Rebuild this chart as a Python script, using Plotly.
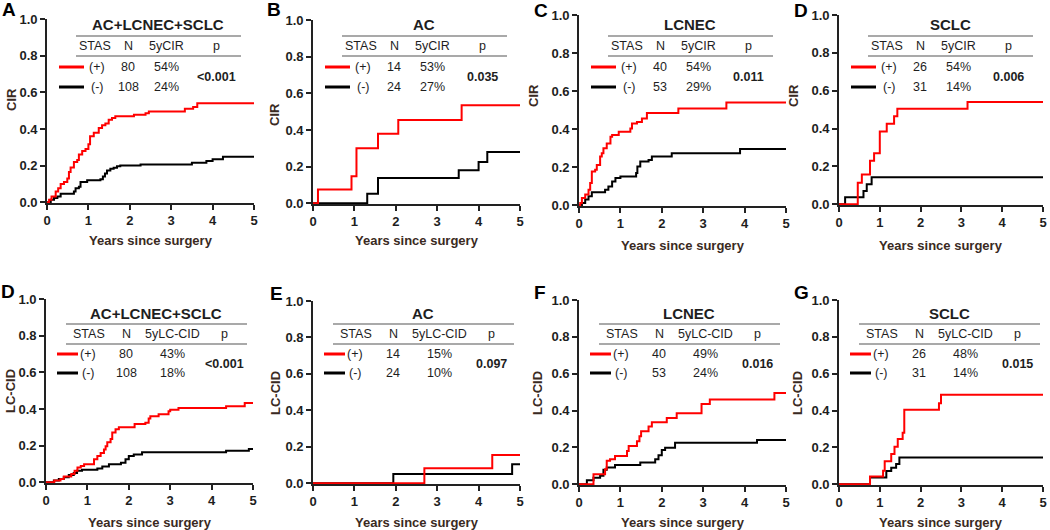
import plotly.graph_objects as go

W, H = 1050, 530
FONT = "Arial, 'Liberation Sans', Helvetica, sans-serif"
TXT = "#1e1e1e"

# ---------------- data ----------------
panel_letters = ["A", "B", "C", "D", "D", "E", "F", "G"]
panel_titles = ["AC+LCNEC+SCLC", "AC", "LCNEC", "SCLC",
                "AC+LCNEC+SCLC", "AC", "LCNEC", "SCLC"]
y_titles = ["CIR"] * 4 + ["LC-CID"] * 4
rate_headers = ["5yCIR"] * 4 + ["5yLC-CID"] * 4
stas_labels = ["(+)", "(-)"]
n_pos = [80, 14, 40, 26, 80, 14, 40, 26]
n_neg = [108, 24, 53, 31, 108, 24, 53, 31]
rate_pos = ["54%", "53%", "54%", "54%", "43%", "15%", "49%", "48%"]
rate_neg = ["24%", "27%", "29%", "14%", "18%", "10%", "24%", "14%"]
p_values = ["<0.001", "0.035", "0.011", "0.006", "<0.001", "0.097", "0.016", "0.015"]
x_ticks = [0, 1, 2, 3, 4, 5]
y_ticks = [0.0, 0.2, 0.4, 0.6, 0.8, 1.0]
x_title = "Years since surgery"

# A: CIR, all
cir_all_pos_t = [0, 0.05, 0.11, 0.21, 0.27, 0.33, 0.41, 0.49, 0.53, 0.57, 0.65, 0.73, 0.77, 0.85, 0.93, 1.0,
                 1.04, 1.13, 1.25, 1.33, 1.41, 1.49, 1.57, 1.65, 2.1, 2.38, 2.46, 3.33, 3.53, 3.63, 5.0]
cir_all_pos_v = [0, .014, .032, .059, .077, .10, .11, .13, .165, .19, .22, .23, .26, .28, .29, .317,
                 .36, .38, .405, .42, .43, .45, .46, .47, .477, .486, .495, .51, .52, .54, .54]
cir_all_neg_t = [0, 0.09, 0.17, 0.25, 0.33, 0.65, 0.69, 0.77, 0.81, 0.97, 1.29, 1.35, 1.4, 1.45, 1.53, 1.61,
                 1.69, 1.77, 2.26, 3.5, 3.85, 4.0, 4.25, 5.0]
cir_all_neg_v = [0, .014, .023, .032, .046, .059, .077, .085, .11, .12, .125, .14, .157, .174, .183, .189,
                 .196, .20, .206, .215, .225, .235, .248, .248]
# B: CIR, AC
cir_ac_pos_t = [0, 0.12, 0.93, 1.05, 1.57, 2.06, 3.59, 5.0]
cir_ac_pos_v = [0, .075, .148, .30, .38, .455, .535, .535]
cir_ac_neg_t = [0, 1.31, 1.57, 3.52, 4.0, 4.21, 5.0]
cir_ac_neg_v = [0, .052, .138, .18, .225, .28, .28]
# C: CIR, LCNEC
cir_lc_pos_t = [0, 0.03, 0.07, 0.15, 0.23, 0.27, 0.31, 0.39, 0.43, 0.51, 0.55, 0.59, 0.67, 0.76, 0.80, 0.96,
                1.24, 1.28, 1.40, 1.52, 1.64, 2.40, 3.56, 5.0]
cir_lc_pos_v = [0, .012, .038, .056, .082, .117, .177, .186, .212, .256, .273, .30, .325, .36, .369, .386,
                .403, .43, .438, .456, .485, .508, .54, .54]
cir_lc_neg_t = [0, 0.07, 0.15, 0.23, 0.31, 0.63, 0.71, 0.80, 0.88, 1.0, 1.38, 1.41, 1.48, 1.68, 1.76, 2.24,
                3.89, 5.0]
cir_lc_neg_v = [0, .012, .03, .047, .068, .082, .099, .125, .143, .151, .169, .203, .23, .238, .256, .273,
                .295, .295]
# D: CIR, SCLC
cir_sc_pos_t = [0, 0.46, 0.56, 0.76, 0.86, 1.0, 1.17, 1.35, 1.43, 3.15, 5.0]
cir_sc_pos_v = [0, .113, .157, .23, .27, .385, .426, .465, .505, .54, .54]
cir_sc_neg_t = [0, 0.15, 0.60, 0.68, 0.80, 5.0]
cir_sc_neg_v = [0, .037, .07, .105, .142, .142]
# D (bottom): LC-CID, all
lcd_all_pos_t = [0, 0.2, 0.35, 0.43, 0.61, 0.69, 0.76, 0.84, 0.92, 1.16, 1.24, 1.32, 1.40, 1.44, 1.48, 1.56,
                 1.60, 1.68, 1.76, 2.14, 2.40, 2.48, 2.52, 2.72, 2.96, 3.0, 3.2, 4.35, 4.8, 5.0]
lcd_all_pos_v = [0, .009, .018, .032, .045, .063, .08, .089, .098, .125, .143, .16, .179, .196, .218, .236,
                 .271, .289, .30, .318, .325, .348, .36, .371, .388, .396, .405, .415, .432, .432]
lcd_all_neg_t = [0, 0.19, 0.31, 0.43, 0.55, 0.67, 0.75, 0.87, 1.24, 1.36, 1.52, 1.81, 1.92, 2.0, 2.12, 2.32,
                 4.35, 4.9, 5.0]
lcd_all_neg_v = [0, .009, .018, .027, .039, .05, .063, .068, .075, .086, .098, .107, .125, .143, .152, .164,
                 .172, .182, .182]
# E: LC-CID, AC
lcd_ac_pos_t = [0, 2.69, 4.33, 5.0]
lcd_ac_pos_v = [0, .083, .155, .155]
lcd_ac_neg_t = [0, 1.94, 4.81, 5.0]
lcd_ac_neg_v = [0, .051, .105, .105]
# F: LC-CID, LCNEC
lcd_lc_pos_t = [0, 0.35, 0.63, 0.67, 0.75, 0.87, 1.16, 1.20, 1.40, 1.46, 1.50, 1.68, 1.76, 2.12, 2.36, 2.96,
                3.16, 4.72, 5.0]
lcd_lc_pos_v = [0, .055, .082, .127, .136, .154, .18, .207, .234, .26, .288, .314, .336, .359, .386, .436,
                .46, .495, .495]
lcd_lc_neg_t = [0, 0.19, 0.35, 0.51, 0.59, 0.67, 0.87, 1.48, 1.84, 1.92, 2.0, 2.08, 2.32, 4.3, 5.0]
lcd_lc_neg_v = [0, .022, .036, .046, .079, .091, .104, .118, .136, .157, .186, .198, .225, .24, .24]
# G: LC-CID, SCLC
lcd_sc_pos_t = [0, 0.76, 1.08, 1.12, 1.28, 1.36, 1.44, 1.56, 1.60, 2.45, 2.50, 5.0]
lcd_sc_pos_v = [0, .042, .074, .125, .164, .204, .245, .28, .404, .44, .486, .486]
lcd_sc_neg_t = [0, 0.76, 1.16, 1.28, 1.40, 1.48, 5.0]
lcd_sc_neg_v = [0, .037, .072, .09, .11, .145, .145]

curves = [
    (cir_all_pos_t, cir_all_pos_v, cir_all_neg_t, cir_all_neg_v),
    (cir_ac_pos_t, cir_ac_pos_v, cir_ac_neg_t, cir_ac_neg_v),
    (cir_lc_pos_t, cir_lc_pos_v, cir_lc_neg_t, cir_lc_neg_v),
    (cir_sc_pos_t, cir_sc_pos_v, cir_sc_neg_t, cir_sc_neg_v),
    (lcd_all_pos_t, lcd_all_pos_v, lcd_all_neg_t, lcd_all_neg_v),
    (lcd_ac_pos_t, lcd_ac_pos_v, lcd_ac_neg_t, lcd_ac_neg_v),
    (lcd_lc_pos_t, lcd_lc_pos_v, lcd_lc_neg_t, lcd_lc_neg_v),
    (lcd_sc_pos_t, lcd_sc_pos_v, lcd_sc_neg_t, lcd_sc_neg_v),
]

# ---------------- layout (pixel boxes of each plot area) ----------------
boxes = [(47, 19, 254, 203), (313, 20, 520, 204), (579, 15, 786, 206), (839, 15, 1043, 205),
         (46, 299, 253, 483), (313, 301, 520, 484), (579, 300, 786, 485), (839, 300, 1043, 485)]
letter_pos = [(9, 10), (274, 10), (541, 11), (801, 11), (8, 291), (276, 293), (540, 292), (801, 292)]
ytitle_dx = [35, 39, 45, 45, 36, 38, 42, 42]
ytitle_y = [100, 115, 96, 96, 391, 393, 393, 393]
xtitle_y = [240, 240, 245, 245, 522, 522, 522, 522]

row_cfg = [
    dict(title_y=25, l1=36, hdr=46, l2=56, r1=67, r2=87, pv=77, lx0=29, lx1=194, c_title=111,
         c_stas=48, c_n=81, c_rate=119, c_p=169, leg0=12, leg1=37, c_sign=50),
    dict(title_y=313, l1=324, hdr=334, l2=344, r1=354, r2=373, pv=364, lx0=20, lx1=201, c_title=110,
         c_stas=43, c_n=80, c_rate=126, c_p=178, leg0=11, leg1=32, c_sign=42),
]


def fx(x):
    return x / W


def fy(y):
    return 1 - y / H


fig = go.Figure()
annotations = []
shapes = []

for i in range(8):
    x0, y0, x1, y1 = boxes[i]
    sfx = "" if i == 0 else str(i + 1)
    xa, ya = "x" + sfx, "y" + sfx
    pt, pv, nt, nv = curves[i]
    fig.add_trace(go.Scatter(x=nt, y=nv, mode="lines", line=dict(color="black", width=2, shape="hv"),
                             xaxis=xa, yaxis=ya, showlegend=False, hoverinfo="skip"))
    fig.add_trace(go.Scatter(x=pt, y=pv, mode="lines", line=dict(color="#ff0000", width=2, shape="hv"),
                             xaxis=xa, yaxis=ya, showlegend=False, hoverinfo="skip"))
    axcommon = dict(showline=True, linecolor="#222", linewidth=1.6, ticks="outside", ticklen=5,
                    tickwidth=1.5, tickcolor="#222", showgrid=False, zeroline=False, fixedrange=True,
                    layer="below traces", automargin=False,
                    tickfont=dict(family=FONT, size=13, color=TXT, weight="bold"))
    fig.update_layout(**{
        ("xaxis" + sfx): dict(domain=[fx(x0), fx(x1)], range=[0, 5], tickvals=x_ticks, anchor=ya, **axcommon),
        ("yaxis" + sfx): dict(domain=[fy(y1), fy(y0)], range=[-0.004, 1.0], tickvals=y_ticks,
                              tickformat=".1f", anchor=xa, **axcommon),
    })

    # panel letter
    lx, ly = letter_pos[i]
    annotations.append(dict(x=fx(lx), y=fy(ly), xref="paper", yref="paper", text="<b>%s</b>" % panel_letters[i],
                            showarrow=False, xanchor="center", yanchor="middle",
                            font=dict(family=FONT, size=19, color="black")))
    # axis titles
    annotations.append(dict(x=fx(x0 - ytitle_dx[i]), y=fy(ytitle_y[i]), xref="paper", yref="paper",
                            text="<b>%s</b>" % y_titles[i], textangle=-90, showarrow=False,
                            xanchor="center", yanchor="middle",
                            font=dict(family=FONT, size=13, color="#3a2a22")))
    annotations.append(dict(x=fx((x0 + x1) / 2), y=fy(xtitle_y[i]), xref="paper", yref="paper",
                            text="<b>%s</b>" % x_title, showarrow=False, xanchor="center", yanchor="middle",
                            font=dict(family=FONT, size=13, color="#3a2a22")))

    # table
    c = row_cfg[0 if i < 4 else 1]

    def txt(xrel, ypx, s, size=12.5, bold=False):
        annotations.append(dict(x=fx(x0 + xrel), y=fy(ypx), xref="paper", yref="paper",
                                text=("<b>%s</b>" % s) if bold else s, showarrow=False,
                                xanchor="center", yanchor="middle",
                                font=dict(family=FONT, size=size, color=TXT)))

    txt(c["c_title"], c["title_y"], panel_titles[i], size=15, bold=True)
    for ly_ in (c["l1"], c["l2"]):
        shapes.append(dict(type="line", xref="paper", yref="paper", x0=fx(x0 + c["lx0"]), x1=fx(x0 + c["lx1"]),
                           y0=fy(ly_), y1=fy(ly_), line=dict(color="#555", width=1.2)))
    txt(c["c_stas"], c["hdr"], "STAS")
    txt(c["c_n"], c["hdr"], "N")
    txt(c["c_rate"], c["hdr"], rate_headers[i])
    txt(c["c_p"], c["hdr"], "p")
    for ry, col, n, r, lab in ((c["r1"], "#ff0000", n_pos[i], rate_pos[i], stas_labels[0]),
                               (c["r2"], "black", n_neg[i], rate_neg[i], stas_labels[1])):
        shapes.append(dict(type="line", xref="paper", yref="paper", x0=fx(x0 + c["leg0"]),
                           x1=fx(x0 + c["leg1"]), y0=fy(ry), y1=fy(ry), line=dict(color=col, width=3)))
        txt(c["c_sign"], ry, lab)
        txt(c["c_n"], ry, str(n))
        txt(c["c_rate"], ry, r)
    txt(c["c_p"], c["pv"], p_values[i], size=12.5, bold=True)

fig.update_layout(width=W, height=H, margin=dict(l=0, r=0, t=0, b=0, autoexpand=False),
                  plot_bgcolor="white", paper_bgcolor="white", annotations=annotations, shapes=shapes,
                  font=dict(family=FONT, color=TXT))
fig.write_html("out.html", config={"displayModeBar": False},
               post_script="document.body.style.margin='0px';")
